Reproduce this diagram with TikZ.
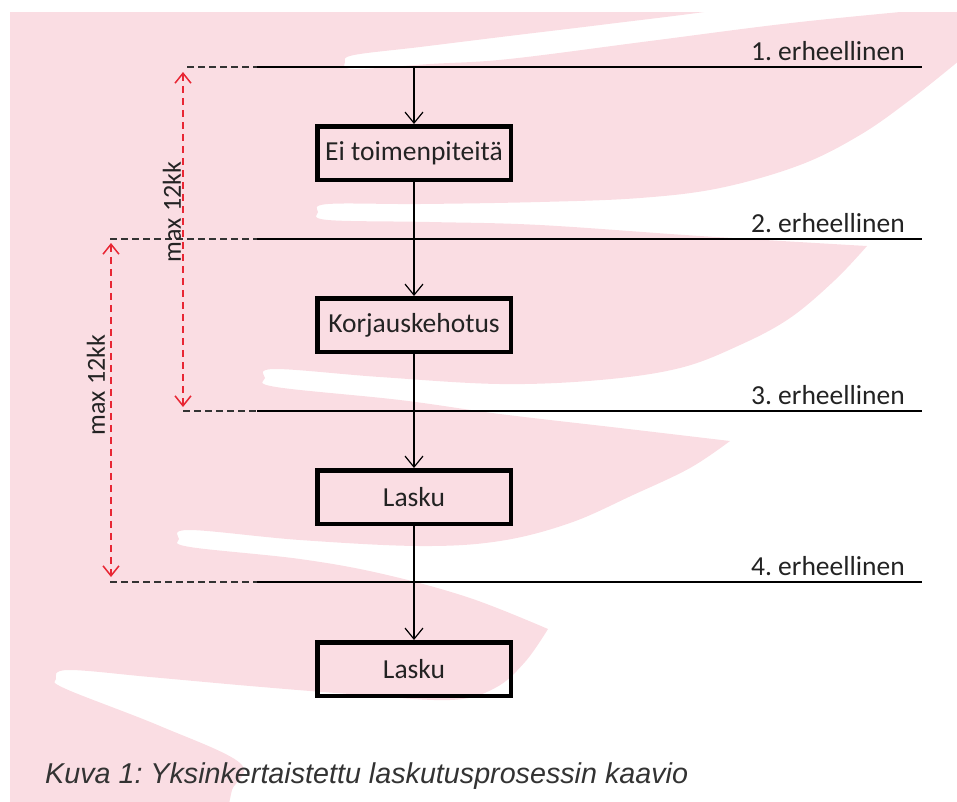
\documentclass[tikz,border=0pt]{standalone}
\usepackage{fontspec}
\setmainfont{Carlito}
\newfontfamily\capfont{Liberation Sans}
\usepackage{xcolor}
\usepackage{tikz}
\usetikzlibrary{arrows.meta}
\frenchspacing
\definecolor{wingpink}{RGB}{250,221,227}
\definecolor{markred}{RGB}{232,38,52}
\definecolor{inkgray}{RGB}{35,35,35}
\tikzset{
  boxnode/.style={draw=black, line width=4.5pt, minimum width=193.5pt, minimum height=53.5pt,
    inner sep=0pt, font=\fontsize{27.5}{33}\selectfont, text=inkgray},
  erline/.style={line width=1.8pt, black},
  dashline/.style={line width=1.7pt, black!80, dash pattern=on 7pt off 4pt},
  flow/.style={line width=1.2pt, -{Straight Barb[length=11pt,width=18pt]}},
  spanarrow/.style={markred, line width=1.5pt, dash pattern=on 7pt off 5pt,
    {Straight Barb[length=10pt,width=16pt]}-{Straight Barb[length=10pt,width=16pt]}},
  erlabel/.style={anchor=base east, inner sep=0pt, font=\fontsize{27.5}{33}\selectfont, text=inkgray},
  spanlabel/.style={rotate=90, inner sep=0pt, font=\fontsize{26}{30}\selectfont, text=inkgray}
}

\begin{document}
\begin{tikzpicture}[x=1pt,y=-1pt]
    \useasboundingbox (0,0) rectangle (957,801);
    % wing in the background
      \begin{scope}
    \clip (10,12) rectangle (957,801);
    \fill[wingpink] (0,0) -- (760,0)
      -- plot[smooth, tension=0.6] coordinates {(760,0) (718,10) (600,25) (509,36) (420,47) (354,55) (345,62) (354,69) (430,64) (509,59) (650,41) (800,22) (965,6)}
      -- (965,60)
      -- plot[smooth, tension=0.6] coordinates {(960,60) (910,100) (860,135) (800,165) (720,188) (640,198) (540,202) (420,204) (328,204) (318,212) (328,220) (430,222) (540,225) (700,236) (867,246)}
      -- plot[smooth, tension=0.6] coordinates {(867,246) (835,280) (790,318) (740,345) (680,368) (600,380) (500,384) (380,377) (275,369) (265,378) (276,387) (400,400) (500,414) (620,428) (730,441)}
      -- plot[smooth, tension=0.6] coordinates {(730,441) (690,468) (633,495) (570,523) (500,541) (420,546) (300,540) (190,530) (179,539) (190,547) (300,559) (383,574) (470,598) (548,629)}
      -- plot[smooth, tension=0.6] coordinates {(548,629) (525,662) (495,688) (450,700) (350,694) (250,686) (150,677) (68,670) (56,679) (66,689) (160,726) (240,763) (232,790) (228,810)}
      -- (0,810) -- cycle;
      \end{scope}

    % erheellinen lines
    \coordinate (d1) at (187,67);  \coordinate (s1) at (257,67);  \coordinate (e1) at (922,67);
    \coordinate (d2) at (110,239); \coordinate (s2) at (257,239); \coordinate (e2) at (922,239);
    \coordinate (d3) at (183,411); \coordinate (s3) at (257,411); \coordinate (e3) at (922,411);
    \coordinate (d4) at (110,582); \coordinate (s4) at (257,582); \coordinate (e4) at (922,582);
    \draw[dashline] (d1) -- (s1);
    \draw[dashline] (d2) -- (s2);
    \draw[dashline] (d3) -- (s3);
    \draw[dashline] (d4) -- (s4);
    \draw[erline] (s1) -- (e1);
    \draw[erline] (s2) -- (e2);
    \draw[erline] (s3) -- (e3);
    \draw[erline] (s4) -- (e4);
    \node[erlabel] (er1) at (905,60) {1. erheellinen};
    \node[erlabel] (er2) at (905,232) {2. erheellinen};
    \node[erlabel] (er3) at (905,404) {3. erheellinen};
    \node[erlabel] (er4) at (905,575) {4. erheellinen};

    % boxes
    \node[boxnode] (ei) at (414,153) {Ei toimenpiteitä};
    \node[boxnode] (korj) at (414,325) {Korjauskehotus};
    \node[boxnode] (lasku1) at (414,497) {Lasku};
    \node[boxnode] (lasku2) at (414,669) {Lasku};
    \coordinate (start) at (414,67);
    \draw[flow] (start) -- (ei.north);
    \draw[flow] (ei.south) -- (korj.north);
    \draw[flow] (korj.south) -- (lasku1.north);
    \draw[flow] (lasku1.south) -- (lasku2.north);

    % max 12kk spans
    \coordinate (r1t) at (183,72);  \coordinate (r1b) at (183,407);
    \coordinate (r2t) at (111,243); \coordinate (r2b) at (111,577);
    \draw[spanarrow] (r1t) -- (r1b);
    \draw[spanarrow] (r2t) -- (r2b);
    \node[spanlabel] (max1) at (172,212) {max 12kk};
    \node[spanlabel] (max2) at (96,385) {max 12kk};

    \node[anchor=base west, inner sep=0pt, font=\capfont\itshape\fontsize{28.7}{34}\selectfont, text=black!80] (cap) at (45,783) {Kuva 1: Yksinkertaistettu laskutusprosessin kaavio};
    \end{tikzpicture}
\end{document}
